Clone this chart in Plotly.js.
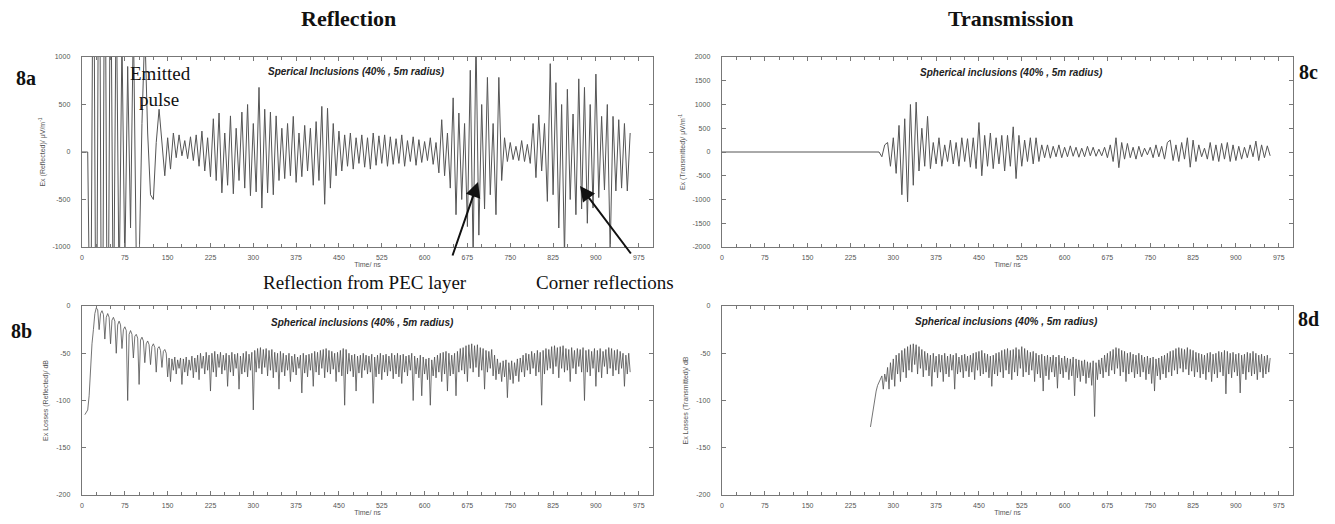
<!DOCTYPE html>
<html>
<head>
<meta charset="utf-8">
<script src="https://cdn.plot.ly/plotly-3.0.1.min.js"></script>
<style>
  html, body { margin: 0; padding: 0; background: #ffffff; }
  #chart { width: 1335px; height: 524px; }
</style>
</head>
<body>
<div id="chart"></div>
<script>
// ---------------- DATA ----------------
const fieldStepNs = 5;     // sample step of the field traces
const lossStepNs = 2.5;    // sample step of the loss (dB) traces

// 8a : Ex (Reflected) in uV/m, samples from t = 0 ns
const reflectedFieldStart = 0;
const reflectedField = [
  0, 0, 0, -2500, 3000, -3000, 3500, -3500, 3000, -3000,
  2500, -2000, 1800, -1500, 1200, -1200, 900, -800, 1400, -1100,
  -1200, 300, 1300, 200, -450, -500, 100, 450, 80, -250,
  150, -180, 200, -60, 180, -40, 120, -70, 160, -90,
  180, -150, 220, -200, 150, -260, 350, -300, 410, -430,
  200, -350, 380, -440, 250, -300, 420, -380, 500, -460,
  300, -420, 680, -590, 450, -430, 420, -450, 380, -300,
  250, -280, 300, -250, 375, -320, 200, -260, 280, -200,
  250, -350, 320, -300, 480, -550, 460, -380, 300, -250,
  220, -200, 180, -150, 200, -180, 150, -120, 180, -160,
  150, -180, 200, -140, 170, -120, 180, -150, 160, -130,
  140, -120, 180, -150, 120, -100, 160, -140, 130, -110,
  110, -90, 150, -130, 100, -220, 340, -250, 200, -380,
  570, -660, 410, -500, 300, -785, 860, -1100, 1200, -875,
  500, -600, 785, -450, 300, -660, 785, -300, 150, -100,
  100, -80, 60, -90, 120, -100, 80, -120, 300, -270,
  390, -200, 300, -520, 930, -450, 730, -800, 500, -1100,
  660, -500, 400, -660, 770, -600, 680, -750, 500, -590,
  820, -480, 375, -400, 500, -1050, 375, -410, 340, -380,
  300, -410, 200
];

// 8c : Ex (Transmitted) in uV/m, samples from t = 0 ns
const transmittedFieldStart = 0;
const transmittedField = [
  0, 0, 0, 0, 0, 0, 0, 0, 0, 0,
  0, 0, 0, 0, 0, 0, 0, 0, 0, 0,
  0, 0, 0, 0, 0, 0, 0, 0, 0, 0,
  0, 0, 0, 0, 0, 0, 0, 0, 0, 0,
  0, 0, 0, 0, 0, 0, 0, 0, 0, 0,
  0, 0, 0, 0, 0, 0, -100, 150, 200, -300,
  300, -450, 560, -900, 700, -1050, 1000, -700, 1050, -400,
  500, -300, 750, -350, 200, -250, 300, -300, 150, -200,
  250, -250, 200, -300, 300, -200, 280, -320, 300, -350,
  620, -500, 350, -300, 400, -350, 300, -250, 350, -400,
  350, -300, 530, -560, 350, -300, 250, -200, 300, -250,
  300, -200, 150, -120, 150, -130, 120, -100, 150, -120,
  100, -100, 130, -90, 100, -110, 80, -100, 120, -80,
  100, -90, 60, -80, 100, -120, 150, -200, 300, -330,
  200, -150, 180, -120, 100, -150, 120, -100, 80, -60,
  100, -120, 150, -100, 120, -150, 200, 250, -180, 150,
  -200, 200, -150, 300, -320, 250, -200, 150, -100, 80,
  -150, 200, -180, 150, -200, 180, -150, 200, -200, 150,
  -180, 120, -150, 100, -120, 150, -100, 230, -180, 150,
  -120, 130, -80
];

// 8b : Ex Losses (Reflected) in dB, samples from t = 5 ns every 2.5 ns
const reflectedLossStart = 5;
const reflectedLossDb = [
  -115, -113, -110, -95, -60, -40, -25, -8, -2, -4,
  -25, -8, -5, -9, -35, -12, -8, -12, -40, -15, -12, -16, -50, -20, -16, -20,
  -45, -25, -22, -26, -100, -30, -26, -30, -55, -32, -30, -34, -83, -36, -33, -37,
  -60, -40, -37, -41, -62, -43, -40, -44, -70, -45, -43, -47, -65, -48, -46, -50,
  -75, -55, -80, -56, -68, -54, -72, -57, -66, -55, -83, -56, -70, -54, -74, -57, -68, -53, -76, -55,
  -70, -52, -78, -50, -66, -53, -72, -49, -68, -52, -90, -50, -70, -48, -75, -51, -65, -49, -72, -52,
  -68, -50, -85, -52, -70, -49, -74, -51, -66, -50, -88, -53, -72, -50, -70, -48, -75, -51, -68, -49,
  -110, -47, -70, -45, -66, -44, -72, -46, -65, -45, -74, -47, -68, -46, -76, -49, -70, -50, -88, -48,
  -70, -50, -74, -52, -68, -50, -80, -53, -70, -51, -73, -54, -66, -52, -92, -50, -71, -52, -75, -51,
  -68, -50, -85, -48, -70, -49, -73, -47, -66, -46, -76, -45, -70, -47, -72, -48, -67, -50, -80, -49,
  -70, -47, -74, -45, -105, -46, -72, -50, -69, -52, -75, -51, -90, -53, -71, -52, -76, -50, -68, -52,
  -72, -53, -70, -51, -103, -54, -75, -52, -72, -50, -78, -52, -70, -51, -74, -53, -69, -50, -77, -52,
  -72, -50, -75, -52, -82, -51, -70, -53, -74, -52, -68, -50, -100, -53, -72, -55, -76, -52, -95, -54,
  -72, -56, -78, -55, -105, -57, -74, -54, -76, -52, -70, -50, -80, -49, -72, -48, -90, -50, -74, -52,
  -72, -50, -95, -48, -70, -45, -68, -44, -72, -42, -80, -41, -66, -40, -70, -42, -65, -41, -75, -44,
  -68, -45, -88, -47, -70, -48, -66, -46, -74, -52, -78, -56, -72, -60, -80, -58, -75, -57, -97, -60,
  -78, -58, -82, -60, -74, -56, -80, -55, -70, -52, -75, -50, -68, -51, -72, -48, -66, -50, -74, -47,
  -70, -49, -105, -47, -72, -45, -68, -46, -66, -43, -72, -42, -64, -44, -76, -43, -66, -42, -70, -45,
  -68, -46, -80, -44, -66, -47, -72, -45, -64, -46, -70, -44, -100, -47, -70, -46, -74, -48, -66, -45,
  -85, -47, -70, -45, -76, -48, -64, -46, -72, -44, -66, -45, -74, -47, -68, -46, -72, -48, -66, -50,
  -85, -52, -72, -50, -70
];

// 8d : Ex Losses (Transmitted) in dB, samples from t = 260 ns every 2.5 ns
const transmittedLossStart = 260;
const transmittedLossDb = [
  -128, -118, -108, -98, -90, -84, -80, -76, -74,
  -88, -72, -80, -65, -88, -60, -78, -56, -85, -52, -72, -50, -80, -47, -70, -45, -76, -43, -68, -41,
  -70, -40, -62, -41, -72, -43, -66, -46, -75, -48, -68, -50, -74, -52, -85, -50, -70, -53, -76, -51,
  -70, -52, -80, -50, -72, -53, -75, -51, -68, -52, -88, -50, -72, -54, -70, -52, -76, -51, -69, -53,
  -75, -52, -70, -50, -78, -49, -68, -48, -74, -47, -72, -50, -70, -51, -76, -53, -85, -52, -72, -50,
  -74, -49, -70, -47, -76, -46, -68, -45, -72, -47, -78, -46, -70, -44, -74, -46, -66, -43, -75, -45,
  -70, -47, -73, -49, -68, -48, -80, -50, -72, -52, -76, -51, -90, -53, -74, -52, -78, -54, -70, -52,
  -75, -54, -87, -52, -72, -55, -76, -53, -70, -55, -78, -56, -74, -54, -95, -56, -76, -57, -80, -58,
  -74, -57, -82, -59, -76, -60, -84, -58, -117, -60, -78, -57, -72, -55, -76, -52, -70, -50, -74, -48,
  -68, -46, -72, -44, -66, -45, -74, -47, -70, -48, -80, -50, -72, -49, -70, -51, -76, -52, -72, -50,
  -75, -52, -70, -54, -78, -53, -72, -55, -82, -54, -90, -56, -74, -55, -78, -53, -72, -52, -76, -50,
  -70, -48, -74, -47, -68, -45, -72, -44, -66, -45, -70, -46, -67, -44, -73, -46, -69, -47, -75, -49,
  -70, -50, -76, -51, -72, -52, -78, -50, -70, -49, -80, -51, -72, -50, -76, -48, -70, -49, -74, -47,
  -93, -48, -72, -50, -76, -49, -70, -51, -74, -50, -92, -52, -72, -51, -78, -49, -70, -50, -74, -48,
  -72, -50, -78, -52, -70, -51, -76, -53, -72, -52, -70, -55
];

// Tick labels
const timeTickVals = [0, 75, 150, 225, 300, 375, 450, 525, 600, 675, 750, 825, 900, 975];
const timeTickText = ['0', '75', '150', '225', '300', '375', '450', '525', '600', '675', '750', '825', '900', '975'];
const fieldReflTickVals = [-1000, -500, 0, 500, 1000];
const fieldReflTickText = ['-1000', '-500', '0', '500', '1000'];
const fieldTransTickVals = [-2000, -1500, -1000, -500, 0, 500, 1000, 1500, 2000];
const fieldTransTickText = ['-2000', '-1500', '-1000', '-500', '0', '500', '1000', '1500', '2000'];
const lossTickVals = [-200, -150, -100, -50, 0];
const lossTickText = ['-200', '-150', '-100', '-50', '0'];

// ---------------- BUILD ----------------
function timesFor(values, start, step) {
  return values.map((_, i) => start + i * step);
}

const fieldLine = { color: '#555555', width: 1 };
const lossLine = { color: '#505050', width: 0.8 };

const traces = [
  { x: timesFor(reflectedField, reflectedFieldStart, fieldStepNs), y: reflectedField, xaxis: 'x', yaxis: 'y',
    type: 'scatter', mode: 'lines', line: fieldLine, hoverinfo: 'skip' },
  { x: timesFor(transmittedField, transmittedFieldStart, fieldStepNs), y: transmittedField, xaxis: 'x2', yaxis: 'y2',
    type: 'scatter', mode: 'lines', line: fieldLine, hoverinfo: 'skip' },
  { x: timesFor(reflectedLossDb, reflectedLossStart, lossStepNs), y: reflectedLossDb, xaxis: 'x3', yaxis: 'y3',
    type: 'scatter', mode: 'lines', line: lossLine, hoverinfo: 'skip' },
  { x: timesFor(transmittedLossDb, transmittedLossStart, lossStepNs), y: transmittedLossDb, xaxis: 'x4', yaxis: 'y4',
    type: 'scatter', mode: 'lines', line: lossLine, hoverinfo: 'skip' }
];

const W = 1335, H = 524;
const px = v => v / W;
const py = v => 1 - v / H;

const tickFont = { family: 'Liberation Sans, Arial, sans-serif', size: 7, color: '#555' };
const axTitleFont = { family: 'Liberation Sans, Arial, sans-serif', size: 7, color: '#555' };

function xAxis(domain, anchor) {
  return {
    domain: domain, anchor: anchor, range: [0, 1000],
    tickmode: 'array', tickvals: timeTickVals, ticktext: timeTickText,
    ticks: 'inside', ticklen: 4, tickcolor: '#777', tickwidth: 1,
    minor: { tickmode: 'linear', tick0: 0, dtick: 25, ticks: 'inside', ticklen: 3, tickcolor: '#777' },
    showline: true, linecolor: '#777', linewidth: 1.3, mirror: 'ticks',
    showgrid: false, zeroline: false, tickfont: tickFont, ticklabelstandoff: 3,
    title: { text: 'Time/ ns', font: axTitleFont, standoff: 1 },
    automargin: false, fixedrange: true
  };
}
function yAxis(domain, anchor, range, vals, text, title) {
  return {
    domain: domain, anchor: anchor, range: range,
    tickmode: 'array', tickvals: vals, ticktext: text,
    ticks: 'inside', ticklen: 4, tickcolor: '#777', tickwidth: 1,
    showline: true, linecolor: '#777', linewidth: 1.3, mirror: 'ticks',
    showgrid: false, zeroline: false, tickfont: tickFont, ticklabelstandoff: 9,
    title: { text: title, font: axTitleFont, standoff: 6 },
    automargin: false, fixedrange: true
  };
}

const leftX = [px(82), px(653)];
const rightX = [px(722), px(1293)];
const topY = [py(247), py(57)];
const botY = [py(495), py(306)];

const serif = 'Liberation Serif, Times New Roman, serif';
const insetFont = { family: 'Liberation Sans, Arial, sans-serif', size: 10, color: '#222' };

function paperText(text, x, y, font) {
  return { text: text, x: px(x), y: py(y), xref: 'paper', yref: 'paper',
    showarrow: false, font: font, xanchor: 'center', yanchor: 'middle' };
}
function arrow(x, y, ax, ay) {
  return { text: '', x: px(x), y: py(y), ax: px(ax), ay: py(ay), xref: 'paper', yref: 'paper',
    axref: 'paper', ayref: 'paper', showarrow: true, arrowhead: 2, arrowsize: 1.5,
    arrowwidth: 2, arrowcolor: '#111' };
}

const annotations = [
  paperText('<b>Reflection</b>', 348, 18, { family: serif, size: 22, color: '#111' }),
  paperText('<b>Transmission</b>', 1011, 18, { family: serif, size: 22, color: '#111' }),
  paperText('<b>8a</b>', 26, 78, { family: serif, size: 20, color: '#111' }),
  paperText('<b>8b</b>', 21, 331, { family: serif, size: 20, color: '#111' }),
  paperText('<b>8c</b>', 1308, 72, { family: serif, size: 20, color: '#111' }),
  paperText('<b>8d</b>', 1308, 319, { family: serif, size: 20, color: '#111' }),
  paperText('<b><i>Sperical Inclusions (40% , 5m radius)</i></b>', 356, 71, insetFont),
  paperText('<b><i>Spherical inclusions (40% , 5m radius)</i></b>', 363, 322, insetFont),
  paperText('<b><i>Spherical inclusions (40% , 5m radius)</i></b>', 1011, 72, insetFont),
  paperText('<b><i>Spherical inclusions (40% , 5m radius)</i></b>', 1006, 321, insetFont),
  paperText('Emitted', 160, 74, { family: serif, size: 19, color: '#111' }),
  paperText('pulse', 159, 100, { family: serif, size: 19, color: '#111' }),
  paperText('Reflection from PEC layer', 365, 282, { family: serif, size: 19, color: '#111' }),
  paperText('Corner reflections', 605, 282, { family: serif, size: 19, color: '#111' }),
  arrow(478, 182, 452, 257),
  arrow(580, 186, 632, 255)
];

const layout = {
  width: W, height: H,
  margin: { l: 0, r: 0, t: 0, b: 0 },
  paper_bgcolor: '#ffffff', plot_bgcolor: '#ffffff',
  showlegend: false,
  xaxis: xAxis(leftX, 'y'),
  yaxis: yAxis(topY, 'x', [-1000, 1000], fieldReflTickVals, fieldReflTickText, 'Ex (Reflected)/ μV/m<sup>-1</sup>'),
  xaxis2: xAxis(rightX, 'y2'),
  yaxis2: yAxis(topY, 'x2', [-2000, 2000], fieldTransTickVals, fieldTransTickText, 'Ex (Transmitted)/ μV/m<sup>-1</sup>'),
  xaxis3: xAxis(leftX, 'y3'),
  yaxis3: yAxis(botY, 'x3', [-200, 0], lossTickVals, lossTickText, 'Ex Losses (Reflected)/ dB'),
  xaxis4: xAxis(rightX, 'y4'),
  yaxis4: yAxis(botY, 'x4', [-200, 0], lossTickVals, lossTickText, 'Ex Losses (Transmitted)/ dB'),
  annotations: annotations
};

Plotly.newPlot('chart', traces, layout, { displayModeBar: false, staticPlot: true });
</script>
</body>
</html>
